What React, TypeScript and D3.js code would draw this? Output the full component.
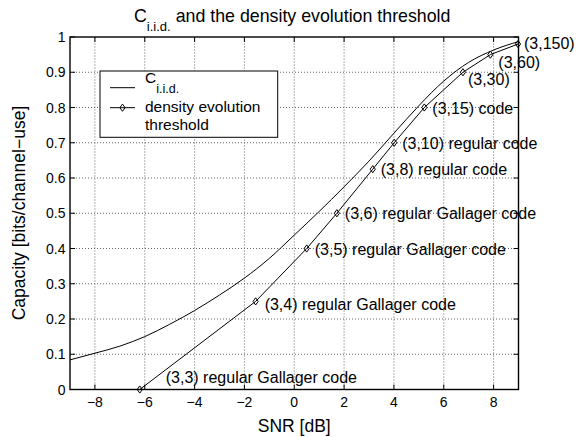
import * as d3 from "d3";

// C_i.i.d. curve
const snrCiid = [-9, -8, -7, -6, -5, -4, -3, -2, -1, 0, 1, 2, 3, 4, 5, 6, 7, 8, 9];
const capCiid = [0.084, 0.103, 0.123, 0.15, 0.185, 0.224, 0.268, 0.316, 0.372, 0.438, 0.505, 0.575, 0.648, 0.727, 0.805, 0.875, 0.928, 0.963, 0.987];

// density evolution thresholds of regular (3,k) codes
const codeNames = ["(3,3)", "(3,4)", "(3,5)", "(3,6)", "(3,8)", "(3,10)", "(3,15)", "(3,30)", "(3,60)", "(3,150)"];
const snrThr = [-6.2, -1.55, 0.5, 1.71, 3.15, 4.01, 5.22, 6.77, 7.87, 8.98];
const rateThr = [0, 0.25, 0.4, 0.5, 0.625, 0.7, 0.8, 0.9, 0.95, 0.98];
const codeSuffix = [
  " regular Gallager code",
  " regular Gallager code",
  " regular Gallager code",
  " regular Gallager code",
  " regular code",
  " regular code",
  " code",
  "",
  "",
  "",
];

const xTicks = [-8, -6, -4, -2, 0, 2, 4, 6, 8];
const yTicks = [0, 0.1, 0.2, 0.3, 0.4, 0.5, 0.6, 0.7, 0.8, 0.9, 1];

const W = 581;
const H = 437;
const FONT = "'Liberation Sans', Arial, Helvetica, sans-serif";

// label offsets from marker (px), default is to the right
const labelOffset = (i: number): [number, number] => {
  if (i === 0) return [26, -12];
  if (i === 1) return [9, 3];
  if (i === 7) return [5, 7];
  if (i === 8) return [8, 8];
  if (i === 9) return [6, -1];
  return [8, 0.5];
};

const diamond = "M0,-3.6L2.6,0L0,3.6L-2.6,0Z";

export default function App() {
  const x = d3.scaleLinear().domain([-9, 9]).range([70, 518.5]);
  const y = d3.scaleLinear().domain([0, 1]).range([389.5, 37]);
  const [x0, x1] = x.range();
  const [y0, y1] = y.range();

  const line = d3
    .line<[number, number]>()
    .x((d) => x(d[0]))
    .y((d) => y(d[1]));
  const smooth = d3
    .line<[number, number]>()
    .x((d) => x(d[0]))
    .y((d) => y(d[1]))
    .curve(d3.curveMonotoneX);

  const ciid = snrCiid.map((s, i) => [s, capCiid[i]] as [number, number]);
  const thr = snrThr.map((s, i) => [s, rateThr[i]] as [number, number]);

  const fmtX = (v: number) => (v < 0 ? "\u2212" + Math.abs(v) : String(v));
  const fmtY = (v: number) => d3.format("~g")(+v.toFixed(1));
  const tl = 5;

  return (
    <svg
      width={W}
      height={H}
      style={{ position: "absolute", left: 0, top: 0, background: "#fff" }}
      fontFamily={FONT}
    >
      <rect x={0} y={0} width={W} height={H} fill="#fff" />

      {/* grid */}
      <g stroke="#666" strokeWidth={1} strokeDasharray="1 2">
        {xTicks.map((t) => (
          <line key={"gx" + t} x1={x(t)} x2={x(t)} y1={y0} y2={y1} />
        ))}
        {yTicks.slice(1, -1).map((t) => (
          <line key={"gy" + t} x1={x0} x2={x1} y1={y(t)} y2={y(t)} />
        ))}
      </g>

      {/* ticks on all four sides */}
      <g stroke="#000" strokeWidth={1}>
        {xTicks.map((t) => (
          <g key={"tx" + t}>
            <line x1={x(t)} x2={x(t)} y1={y0} y2={y0 - tl} />
            <line x1={x(t)} x2={x(t)} y1={y1} y2={y1 + tl} />
          </g>
        ))}
        {yTicks.map((t) => (
          <g key={"ty" + t}>
            <line x1={x0} x2={x0 + tl} y1={y(t)} y2={y(t)} />
            <line x1={x1} x2={x1 - tl} y1={y(t)} y2={y(t)} />
          </g>
        ))}
      </g>
      <rect x={x0} y={y1} width={x1 - x0} height={y0 - y1} fill="none" stroke="#000" strokeWidth={1.4} />

      {/* tick labels */}
      <g fontSize={14} fill="#000">
        {xTicks.map((t) => (
          <text key={"lx" + t} x={x(t)} y={407} textAnchor="middle">
            {fmtX(t)}
          </text>
        ))}
        {yTicks.map((t) => (
          <text key={"ly" + t} x={65.5} y={y(t)} textAnchor="end" dominantBaseline="central">
            {fmtY(t)}
          </text>
        ))}
      </g>

      {/* curves */}
      <path d={smooth(ciid) ?? ""} fill="none" stroke="#000" strokeWidth={1} />
      <path d={line(thr) ?? ""} fill="none" stroke="#000" strokeWidth={1} />
      {thr.map((d, i) => (
        <path key={"m" + i} d={diamond} transform={`translate(${x(d[0])},${y(d[1])})`} fill="none" stroke="#000" strokeWidth={1} />
      ))}

      {/* code labels */}
      <g fontSize={16} fill="#000">
        {thr.map((d, i) => {
          const [dx, dy] = labelOffset(i);
          return (
            <text key={"c" + i} x={x(d[0]) + dx} y={y(d[1]) + dy} dominantBaseline="central">
              {codeNames[i] + codeSuffix[i]}
            </text>
          );
        })}
      </g>

      {/* legend */}
      <g>
        <rect x={100} y={71} width={177.7} height={66.3} fill="#fff" stroke="#000" strokeWidth={1} />
        <line x1={110} x2={135} y1={87.7} y2={87.7} stroke="#000" strokeWidth={1} />
        <text x={145} y={83.3} fontSize={15.5}>
          C
          <tspan fontSize={12.5} dy={9.5}>
            i.i.d.
          </tspan>
        </text>
        <line x1={110} x2={135} y1={107.7} y2={107.7} stroke="#000" strokeWidth={1} />
        <path d={diamond} transform="translate(122.5,107.7)" fill="none" stroke="#000" strokeWidth={1} />
        <text x={145} y={112} fontSize={15.5}>
          density evolution
        </text>
        <text x={145} y={129.5} fontSize={15.5}>
          threshold
        </text>
      </g>

      {/* title */}
      <text x={(x0 + x1) / 2 - 2} y={21.7} fontSize={17.8} textAnchor="middle">
        C
        <tspan fontSize={13} dy={9.5}>
          i.i.d.
        </tspan>
        <tspan dy={-9.5}> and the density evolution threshold</tspan>
      </text>

      {/* axis labels */}
      <text x={(x0 + x1) / 2} y={431.7} fontSize={17.5} textAnchor="middle">
        SNR [dB]
      </text>
      <text transform={`translate(25,213) rotate(-90)`} fontSize={17.5} textAnchor="middle">
        Capacity [bits/channel{"\u2212"}use]
      </text>
    </svg>
  );
}
